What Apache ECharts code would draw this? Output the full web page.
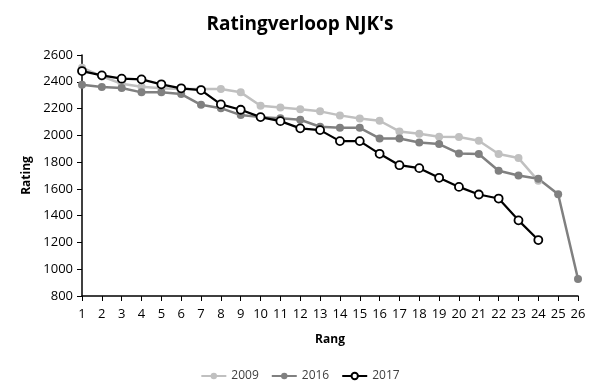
<!DOCTYPE html>
<html>
<head>
<meta charset="utf-8">
<script src="https://cdn.jsdelivr.net/npm/echarts@6/dist/echarts.min.js"></script>
<style>html,body{margin:0;padding:0;background:#fff;}#c{width:600px;height:391px;}</style>
</head>
<body>
<div id="c"></div>
<script>
const ranks = ['1','2','3','4','5','6','7','8','9','10','11','12','13','14','15','16','17','18','19','20','21','22','23','24','25','26'];
const s2009 = [2505,2440,2385,2363,2351,2346,2346,2346,2321,2221,2208,2195,2179,2149,2126,2109,2029,2012,1989,1987,1959,1860,1830,1660];
const s2016 = [2378,2361,2353,2321,2321,2308,2228,2203,2151,2136,2128,2116,2064,2056,2056,1977,1977,1947,1935,1865,1860,1735,1700,1675,1560,927];
const s2017 = [2480,2448,2423,2418,2381,2351,2338,2231,2191,2136,2106,2052,2039,1957,1957,1862,1777,1755,1683,1615,1558,1528,1365,1218];
const yTicks = {min: 800, max: 2600, step: 200};

const font = 'Open Sans';
const chart = echarts.init(document.getElementById('c'));
chart.setOption({
  animation: false,
  backgroundColor: '#fff',
  title: {
    text: "Ratingverloop NJK's",
    left: 'center', top: 10,
    textStyle: {fontFamily: font, fontSize: 19, fontWeight: 'bold', color: '#000'}
  },
  legend: {
    top: 365, left: 'center',
    itemWidth: 25, itemHeight: 8, itemGap: 12,
    textStyle: {fontFamily: font, fontSize: 12, color: '#404040'},
    data: ['2009', '2016', '2017']
  },
  grid: {left: 82, right: 22, top: 55, bottom: 95, containLabel: false},
  xAxis: {
    type: 'category', data: ranks, boundaryGap: false,
    name: 'Rang', nameLocation: 'middle', nameGap: 38,
    nameTextStyle: {fontFamily: font, fontSize: 12, fontWeight: 'bold', color: '#000'},
    axisLine: {lineStyle: {color: '#000', width: 1.5}},
    axisTick: {show: true, length: 5, lineStyle: {color: '#000'}, interval: 0},
    axisLabel: {fontFamily: font, fontSize: 13, color: '#000', interval: 0, margin: 12},
    splitLine: {show: false}
  },
  yAxis: {
    type: 'value', min: yTicks.min, max: yTicks.max, interval: yTicks.step,
    name: 'Rating', nameLocation: 'middle', nameGap: 44,
    nameTextStyle: {fontFamily: font, fontSize: 12, fontWeight: 'bold', color: '#000'},
    axisLine: {show: true, lineStyle: {color: '#000', width: 1.5}},
    axisTick: {show: true, length: 5, lineStyle: {color: '#000'}},
    axisLabel: {fontFamily: font, fontSize: 13, color: '#000', margin: 9, formatter: v => String(v)},
    splitLine: {show: false}
  },
  series: [
    {name: '2009', type: 'line', data: s2009, symbol: 'circle', symbolSize: 8,
     itemStyle: {color: '#c0c0c0'}, lineStyle: {color: '#c0c0c0', width: 2.5}},
    {name: '2016', type: 'line', data: s2016, symbol: 'circle', symbolSize: 8,
     itemStyle: {color: '#808080'}, lineStyle: {color: '#808080', width: 2.5}},
    {name: '2017', type: 'line', data: s2017, symbol: 'circle', symbolSize: 8,
     itemStyle: {color: '#fff', borderColor: '#000', borderWidth: 1.8},
     lineStyle: {color: '#000', width: 2.2}}
  ]
});
</script>
</body>
</html>
